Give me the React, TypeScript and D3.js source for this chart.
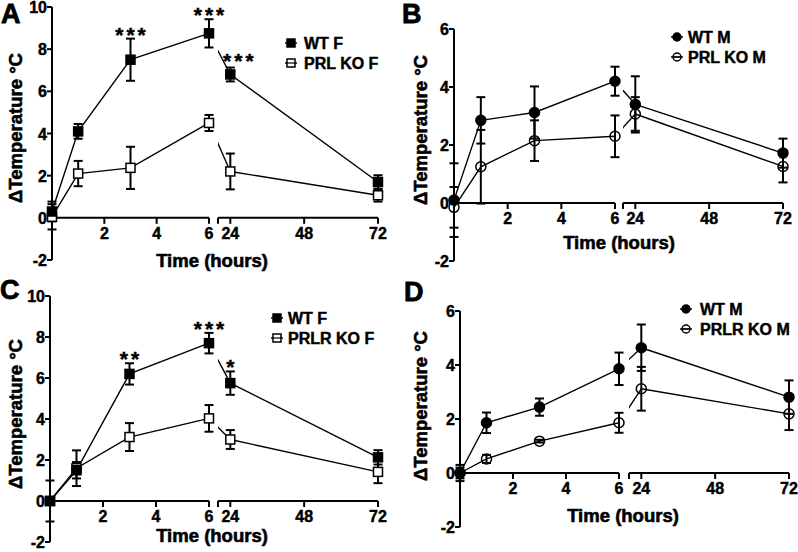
import React from "react";
import * as d3 from "d3";

// ---------- data ----------
const times = [0, 1, 3, 6, 24, 72];
const xTicks1 = [2, 4, 6];
const xTicks2 = [24, 48, 72];
const yTicksF = [-2, 0, 2, 4, 6, 8, 10];
const yTicksM = [-2, 0, 2, 4, 6];

// Panel A
const wtF_A = [0.3, 4.1, 7.5, 8.75, 6.8, 1.7];
const wtF_A_err = [0.47, 0.35, 1.0, 0.67, 0.33, 0.32];
const koF_A = [0.05, 2.1, 2.37, 4.5, 2.2, 1.07];
const koF_A_err = [0.6, 0.6, 1.0, 0.38, 0.85, 0.3];
const starsA = [
  { t: 3, label: "***" },
  { t: 6, label: "***" },
  { t: 24, label: "***" },
];

// Panel B
const wtM_B = [0.1, 2.85, 3.12, 4.2, 3.4, 1.72];
const wtM_B_err = [1.27, 0.8, 0.9, 0.5, 0.97, 0.5];
const koM_B = [-0.15, 1.25, 2.15, 2.3, 3.07, 1.26];
const koM_B_err = [0.7, 1.27, 0.7, 0.72, 0.58, 0.55];

// Panel C
const wtF_C = [0, 1.5, 6.2, 7.7, 5.75, 2.13];
const wtF_C_err = [0, 0.4, 0.52, 0.5, 0.57, 0.35];
const koF_C = [0, 1.6, 3.12, 4.03, 3.0, 1.42];
const koF_C_err = [1.0, 0.87, 0.68, 0.65, 0.46, 0.55];
const starsC = [
  { t: 3, label: "**" },
  { t: 6, label: "***" },
  { t: 24, label: "*" },
];

// Panel D
const wtM_D = [0, 1.86, 2.44, 3.86, 4.64, 2.81];
const wtM_D_err = [0.3, 0.38, 0.32, 0.6, 0.86, 0.62];
const koM_D = [0, 0.52, 1.18, 1.86, 3.12, 2.19];
const koM_D_err = [0.2, 0.15, 0.05, 0.37, 0.81, 0.6];

// ---------- layout ----------
const FONT = "'Liberation Sans', Arial, sans-serif";
const TS = { stroke: "#000", strokeWidth: 0.45, paintOrder: "stroke" } as any;

type Star = { t: number; label: string };
type PanelCfg = {
  id: string;
  letter: { x: number; y: number };
  yDomain: [number, number];
  yRange: [number, number];
  yTicks: number[];
  x1Range: [number, number];
  x2Range: [number, number];
  wt: number[];
  wtErr: number[];
  ko: number[];
  koErr: number[];
  marker: "square" | "circle";
  legend: [string, string];
  legendPos: { x: number; y: number; textX: number };
  xTitle: { x: number; y: number };
  yTitle: { x: number; y: number };
  stars: Star[];
  starOffsets: { dx: number; dy: number }[];
};

const panels: PanelCfg[] = [
  {
    id: "A",
    letter: { x: 1, y: 23 },
    yDomain: [-2, 10],
    yRange: [260, 7],
    yTicks: yTicksF,
    x1Range: [52, 209],
    x2Range: [218, 378],
    wt: wtF_A,
    wtErr: wtF_A_err,
    ko: koF_A,
    koErr: koF_A_err,
    marker: "square",
    legend: ["WT F", "PRL KO F"],
    legendPos: { x: 291, y: 43, textX: 304 },
    xTitle: { x: 212, y: 267 },
    yTitle: { x: 22, y: 128 },
    stars: starsA,
    starOffsets: [
      { dx: 0, dy: 0 },
      { dx: 0, dy: 0 },
      { dx: 8, dy: -3 },
    ],
  },
  {
    id: "B",
    letter: { x: 402, y: 23 },
    yDomain: [-2, 6],
    yRange: [261, 29],
    yTicks: yTicksM,
    x1Range: [454, 615],
    x2Range: [623, 783],
    wt: wtM_B,
    wtErr: wtM_B_err,
    ko: koM_B,
    koErr: koM_B_err,
    marker: "circle",
    legend: ["WT M", "PRL KO M"],
    legendPos: { x: 677, y: 37, textX: 688 },
    xTitle: { x: 619, y: 249 },
    yTitle: { x: 427, y: 130 },
    stars: [],
    starOffsets: [],
  },
  {
    id: "C",
    letter: { x: 0, y: 299 },
    yDomain: [-2, 10],
    yRange: [542, 296],
    yTicks: yTicksF,
    x1Range: [50, 209],
    x2Range: [218, 378],
    wt: wtF_C,
    wtErr: wtF_C_err,
    ko: koF_C,
    koErr: koF_C_err,
    marker: "square",
    legend: ["WT F", "PRLR KO F"],
    legendPos: { x: 277, y: 318, textX: 288 },
    xTitle: { x: 212, y: 542 },
    yTitle: { x: 22, y: 414 },
    stars: starsC,
    starOffsets: [
      { dx: 0, dy: 0 },
      { dx: 0, dy: 0 },
      { dx: 0, dy: 0 },
    ],
  },
  {
    id: "D",
    letter: { x: 404, y: 301 },
    yDomain: [-2, 6],
    yRange: [527, 311],
    yTicks: yTicksM,
    x1Range: [460, 619],
    x2Range: [629, 789],
    wt: wtM_D,
    wtErr: wtM_D_err,
    ko: koM_D,
    koErr: koM_D_err,
    marker: "circle",
    legend: ["WT M", "PRLR KO M"],
    legendPos: { x: 686, y: 309, textX: 700 },
    xTitle: { x: 623, y: 522 },
    yTitle: { x: 427, y: 406 },
    stars: [],
    starOffsets: [],
  },
];

function Marker({ kind, x, y, filled, size }: any) {
  if (kind === "square") {
    const s = size ?? 9;
    return (
      <rect
        x={x - s / 2}
        y={y - s / 2}
        width={s}
        height={s}
        fill={filled ? "#000" : "#fff"}
        stroke="#000"
        strokeWidth={1.5}
      />
    );
  }
  const r = size ? size / 2 : 5;
  return (
    <circle
      cx={x}
      cy={y}
      r={r}
      fill={filled ? "#000" : "none"}
      stroke="#000"
      strokeWidth={1.5}
    />
  );
}

function Panel({ p }: { p: PanelCfg }) {
  const y = d3.scaleLinear().domain(p.yDomain).range(p.yRange);
  const x1 = d3.scaleLinear().domain([0, 6]).range(p.x1Range);
  const x2 = d3.scaleLinear().domain([20, 72]).range(p.x2Range);
  const xOf = (t: number) => (t <= 6 ? x1(t) : x2(t));
  const y0 = y(0);
  const axisX = p.x1Range[0];
  const line = d3
    .line<[number, number]>()
    .x((d) => d[0])
    .y((d) => d[1]);

  const series = [
    { vals: p.wt, errs: p.wtErr, filled: true },
    { vals: p.ko, errs: p.koErr, filled: false },
  ];

  const clipId = "clip" + p.id;

  return (
    <g>
      <defs>
        <clipPath id={clipId}>
          <rect x={p.x2Range[0]} y={0} width={400} height={552} />
        </clipPath>
      </defs>
      {/* panel letter */}
      <text
        x={p.letter.x}
        y={p.letter.y}
        fontFamily={FONT}
        fontWeight="bold"
        fontSize={27}
        fill="#000"
        {...TS}
        strokeWidth={0.8}
      >
        {p.id}
      </text>

      {/* y axis */}
      <line
        x1={axisX}
        x2={axisX}
        y1={y(p.yDomain[1])}
        y2={y(p.yDomain[0])}
        stroke="#000"
        strokeWidth={2}
      />
      {p.yTicks.map((v) => (
        <g key={"yt" + v}>
          <line
            x1={axisX - 5}
            x2={axisX}
            y1={y(v)}
            y2={y(v)}
            stroke="#000"
            strokeWidth={2}
          />
          <text
            x={axisX - 5}
            y={y(v) + 6}
            textAnchor="end"
            fontFamily={FONT}
            fontWeight="bold"
            fontSize={16}
            {...TS}
          >
            {v}
          </text>
        </g>
      ))}

      {/* x axis segments */}
      <line
        x1={axisX}
        x2={x1(6)}
        y1={y0}
        y2={y0}
        stroke="#000"
        strokeWidth={2}
      />
      <line
        x1={p.x2Range[0]}
        x2={x2(72)}
        y1={y0}
        y2={y0}
        stroke="#000"
        strokeWidth={2}
      />
      <line
        x1={p.x2Range[0]}
        x2={p.x2Range[0]}
        y1={y0}
        y2={y0 + 6}
        stroke="#000"
        strokeWidth={2}
      />
      {xTicks1.map((t) => (
        <g key={"xa" + t}>
          <line
            x1={x1(t)}
            x2={x1(t)}
            y1={y0}
            y2={y0 + 6}
            stroke="#000"
            strokeWidth={2}
          />
          <text
            x={x1(t)}
            y={y0 + 21}
            textAnchor="middle"
            fontFamily={FONT}
            fontWeight="bold"
            fontSize={16}
            {...TS}
          >
            {t}
          </text>
        </g>
      ))}
      {xTicks2.map((t) => (
        <g key={"xb" + t}>
          <line
            x1={x2(t)}
            x2={x2(t)}
            y1={y0}
            y2={y0 + 6}
            stroke="#000"
            strokeWidth={2}
          />
          <text
            x={x2(t)}
            y={y0 + 21}
            textAnchor="middle"
            fontFamily={FONT}
            fontWeight="bold"
            fontSize={16}
            {...TS}
          >
            {t}
          </text>
        </g>
      ))}

      {/* titles */}
      <text
        x={p.xTitle.x}
        y={p.xTitle.y}
        textAnchor="middle"
        fontFamily={FONT}
        fontWeight="bold"
        fontSize={18.5}
        {...TS}
        strokeWidth={0.6}
      >
        Time (hours)
      </text>
      <text
        transform={`translate(${p.yTitle.x},${p.yTitle.y}) rotate(-90)`}
        textAnchor="middle"
        fontFamily={FONT}
        fontWeight="bold"
        fontSize={18.5}
        {...TS}
        strokeWidth={0.6}
      >
        ΔTemperature °C
      </text>

      {/* lines */}
      {series.map((s, si) => {
        const pts: [number, number][] = times.map((t, i) => [
          xOf(t),
          y(s.vals[i]),
        ]);
        const seg1 = pts.filter((_, i) => times[i] <= 6);
        const seg2 = pts.filter((_, i) => times[i] >= 24);
        const bridge = [seg1[seg1.length - 1], seg2[0]];
        return (
          <g key={"ln" + si} fill="none" stroke="#000" strokeWidth={1.4}>
            <path d={line(seg1) || ""} />
            <path d={line(seg2) || ""} />
            <path d={line(bridge) || ""} clipPath={`url(#${clipId})`} />
          </g>
        );
      })}

      {/* error bars */}
      {series.map((s, si) =>
        times.map((t, i) => {
          const e = s.errs[i];
          if (!e) return null;
          const cx = xOf(t);
          const top = y(s.vals[i] + e);
          const bot = y(s.vals[i] - e);
          return (
            <g key={"eb" + si + "_" + i} stroke="#000" strokeWidth={2}>
              <line x1={cx} x2={cx} y1={top} y2={bot} />
              <line x1={cx - 4.5} x2={cx + 4.5} y1={top} y2={top} />
              <line x1={cx - 4.5} x2={cx + 4.5} y1={bot} y2={bot} />
            </g>
          );
        })
      )}

      {/* markers: KO first then WT on top */}
      {[series[1], series[0]].map((s, si) =>
        times.map((t, i) => (
          <Marker
            key={"mk" + si + "_" + i}
            kind={p.marker}
            x={xOf(t)}
            y={y(s.vals[i])}
            filled={s.filled}
          />
        ))
      )}

      {/* stars */}
      {p.stars.map((st, k) => {
        const i = times.indexOf(st.t);
        const off = p.starOffsets[k];
        const cy = y(p.wt[i] + p.wtErr[i]) - 9 + off.dy;
        return (
          <text
            key={"st" + k}
            x={xOf(st.t) + off.dx + 1.5}
            y={cy + 12}
            textAnchor="middle"
            fontFamily={FONT}
            fontWeight="bold"
            fontSize={21}
            letterSpacing={3}
            {...TS}
          >
            {st.label}
          </text>
        );
      })}

      {/* legend */}
      {p.legend.map((lab, k) => {
        const ly = p.legendPos.y + k * 20;
        return (
          <g key={"lg" + k}>
            <line
              x1={p.legendPos.x - 6}
              x2={p.legendPos.x + 6}
              y1={ly}
              y2={ly}
              stroke="#000"
              strokeWidth={1.4}
            />
            <Marker
              kind={p.marker}
              x={p.legendPos.x}
              y={ly}
              filled={k === 0}
              size={8}
            />
            {k === 1 && (
              <line
                x1={p.legendPos.x - 4}
                x2={p.legendPos.x + 4}
                y1={ly}
                y2={ly}
                stroke="#000"
                strokeWidth={1.2}
              />
            )}
            <text
              x={p.legendPos.textX}
              y={ly + 6}
              fontFamily={FONT}
              fontWeight="bold"
              fontSize={16}
              {...TS}
            >
              {lab}
            </text>
          </g>
        );
      })}
    </g>
  );
}

export default function App() {
  return (
    <svg
      width={798}
      height={552}
      style={{ position: "absolute", left: 0, top: 0, background: "#fff" }}
    >
      <rect width={798} height={552} fill="#fff" />
      {panels.map((p) => (
        <Panel key={p.id} p={p} />
      ))}
    </svg>
  );
}
